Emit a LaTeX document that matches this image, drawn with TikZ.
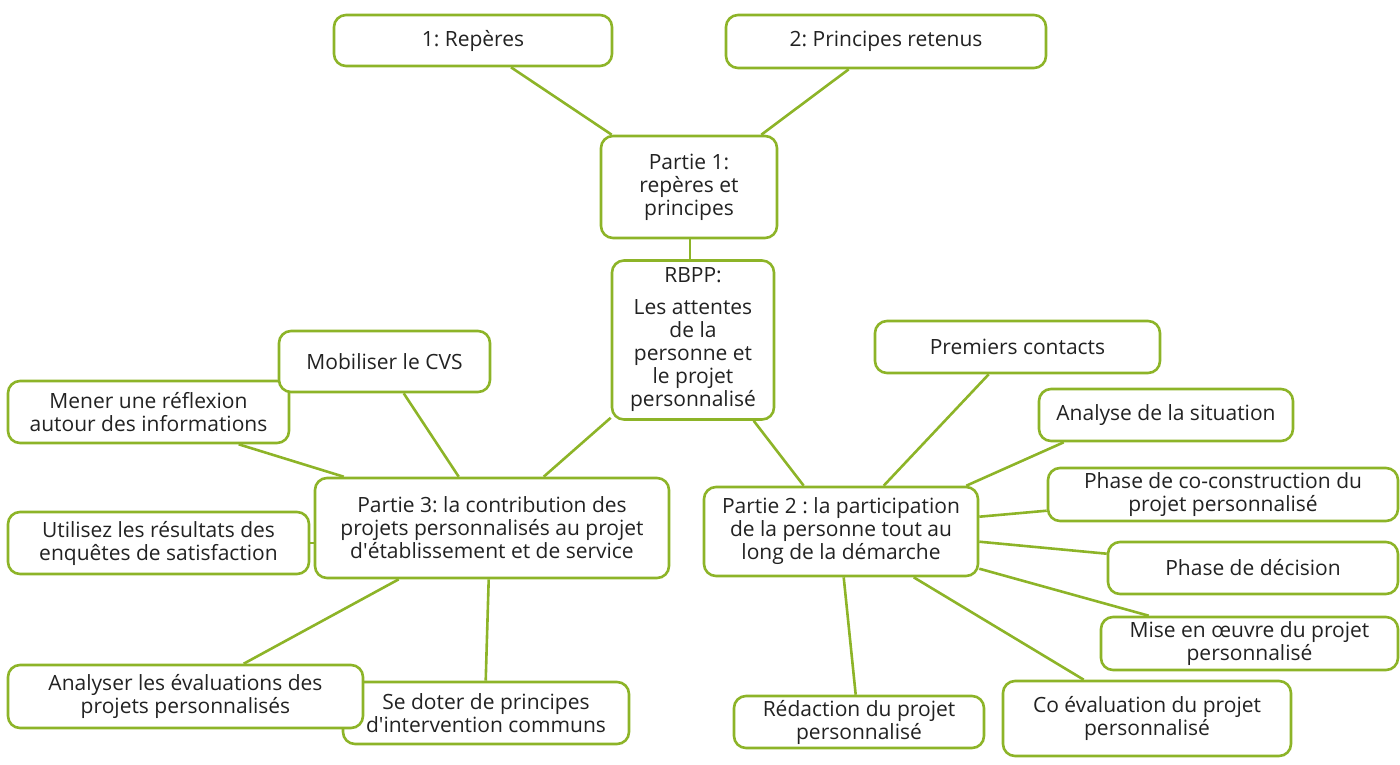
\documentclass[tikz,border=0pt]{standalone}
\usepackage{fontspec}
\setmainfont{Open Sans}
\usetikzlibrary{calc}
\pgfdeclarelayer{bg}
\pgfsetlayers{bg,main}
\definecolor{grn}{RGB}{141,180,40}
\definecolor{txt}{RGB}{34,34,34}
\frenchspacing
\begin{document}
\begin{tikzpicture}[x=1pt,y=-1pt,
  box/.style={draw=grn,line width=2.6pt,rounded corners=12pt,fill=white,align=center,
    text=txt,font=\fontsize{21}{23}\selectfont\frenchspacing,inner sep=2pt},
  link/.style={draw=grn,line width=2.6pt}]
\useasboundingbox (0,0) rectangle (1400,764);
% nodes
\node[box,minimum width=278pt,minimum height=51pt] (b1) at (473,40.5) {1: Repères};
\node[box,minimum width=320pt,minimum height=53pt] (b2) at (886,41.5) {2: Principes retenus};
\node[box,minimum width=176pt,minimum height=102pt] (p1) at (689,187) {Partie 1:\\repères et\\principes};
\node[box,minimum width=162pt,minimum height=159pt] (rb) at (693,340) {RBPP:\\[9pt]Les attentes\\de la\\personne et\\le projet\\personnalisé};
\node[box,minimum width=281pt,minimum height=62pt] (me) at (148.5,412) {Mener une réflexion\\autour des informations};
\node[box,minimum width=211pt,minimum height=61pt] (mo) at (384.5,361.5) {Mobiliser le CVS};
\node[box,minimum width=354pt,minimum height=100pt] (p3) at (492,528) {Partie 3: la contribution des\\projets personnalisés au projet\\d\textquotesingle établissement et de service};
\node[box,minimum width=301pt,minimum height=62pt] (ut) at (158.5,543) {Utilisez les résultats des\\enquêtes de satisfaction};
\node[box,minimum width=286pt,minimum height=62pt] (sd) at (486,713) {Se doter de principes\\d\textquotesingle intervention communs};
\node[box,minimum width=355pt,minimum height=63pt] (an) at (185.5,696.5) {Analyser les évaluations des\\projets personnalisés};
\node[box,minimum width=274pt,minimum height=89pt] (p2) at (841,531.5) {Partie 2 : la participation\\de la personne tout au\\long de la démarche};
\node[box,minimum width=285pt,minimum height=52pt] (pc) at (1017.5,347) {Premiers contacts};
\node[box,minimum width=254pt,minimum height=52pt] (as) at (1166,415) {Analyse de la situation};
\node[box,minimum width=350pt,minimum height=53pt] (cc) at (1223,494.5) {Phase de co-construction du\\projet personnalisé};
\node[box,minimum width=290pt,minimum height=52pt] (de) at (1253,568) {Phase de décision};
\node[box,minimum width=297pt,minimum height=53pt] (mi) at (1249.5,643.5) {Mise en œuvre du projet\\personnalisé};
\node[box,minimum width=288pt,minimum height=75pt] (ce) at (1147,718.5) {Co évaluation du projet\\personnalisé};
\node[box,minimum width=250pt,minimum height=52pt] (re) at (859,722) {Rédaction du projet\\personnalisé};
% connectors
\begin{pgfonlayer}{bg}
\draw[link] ($(b1.south)+(38,0)$) -- ($(p1.north west)+(12,0)$);
\draw[link] ($(b2.south west)+(124,0)$) -- ($(p1.north east)+(-17,0)$);
\draw[link] ($(p1.south)+(1,0)$) -- ($(rb.north)+(-3,0)$);
\draw[link] ($(rb.south west)+(0,-3)$) -- ($(p3.north west)+(230,0)$);
\draw[link] ($(rb.south west)+(143,0)$) -- ($(p2.north west)+(101,0)$);
\draw[link] ($(mo.south west)+(126,0)$) -- ($(p3.north west)+(145,0)$);
\draw[link] ($(me.south west)+(232,0)$) -- ($(p3.north west)+(30,0)$);
\draw[link] (ut.east) -- (ut.east -| p3.west);
\draw[link] ($(p3.south west)+(85,0)$) -- ($(an.north west)+(237,0)$);
\draw[link] ($(p3.south west)+(175,0)$) -- ($(sd.north west)+(144,0)$);
\draw[link] ($(p2.north west)+(181,0)$) -- ($(pc.south west)+(115,0)$);
\draw[link] ($(p2.north east)+(-13,0)$) -- ($(as.south west)+(26,0)$);
\draw[link] ($(p2.north east)+(0,31)$) -- ($(cc.north west)+(0,44)$);
\draw[link] ($(p2.north east)+(0,56)$) -- ($(de.north west)+(0,13)$);
\draw[link] ($(p2.north east)+(0,83)$) -- ($(mi.north west)+(49,0)$);
\draw[link] ($(p2.south west)+(211,0)$) -- ($(ce.north west)+(82,0)$);
\draw[link] ($(p2.south west)+(141,0)$) -- ($(re.north west)+(123,0)$);
\end{pgfonlayer}
\end{tikzpicture}
\end{document}
